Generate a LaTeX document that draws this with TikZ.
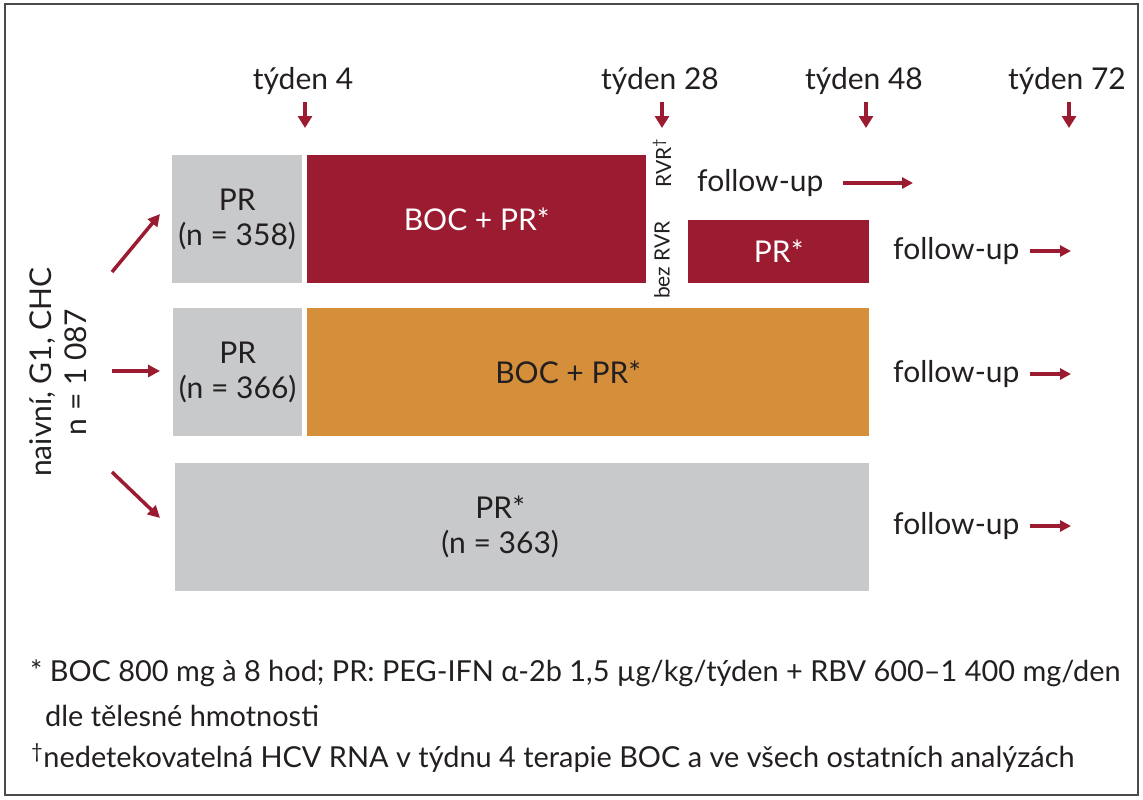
\documentclass[tikz,border=0pt]{standalone}
\usepackage{fontspec}
\setmainfont{Lato}
\usetikzlibrary{arrows.meta,positioning}

\definecolor{boxred}{HTML}{9B1B30}
\definecolor{boxorange}{HTML}{D58F3A}
\definecolor{boxgray}{HTML}{C8C9CB}
\definecolor{ink}{HTML}{231F20}
\definecolor{rim}{HTML}{4A4A4A}

\begin{document}
\begin{tikzpicture}
	[
		x = 1pt, y = -1pt,
		every node/.style = {text=ink, inner sep=0pt, font=\fontsize{30}{35}\selectfont},
		bar/.style = {shape=rectangle, anchor=north west, minimum height=128pt},
		graybar/.style = {bar, fill=boxgray},
		redbar/.style = {bar, fill=boxred, text=white},
		orangebar/.style = {bar, fill=boxorange},
		small/.style = {font=\fontsize{21}{25}\selectfont},
		note/.style = {anchor=west, font=\fontsize{28.9}{33}\selectfont},
		warr/.style = {draw=boxred, line width=4.5pt, -{Triangle[length=12pt, width=14pt]}},
		farr/.style = {draw=boxred, line width=3.5pt, -{Triangle[length=11pt, width=11pt]}},
		sarr/.style = {draw=boxred, line width=3.5pt, -{Triangle[length=12pt, width=12pt]}}
	]

	\useasboundingbox (0,0) rectangle (1143,800);
	\draw [rim, line width=2.5pt] (5,4) rectangle (1138,795);

	% weeks
	\foreach \w/\x in {4/305, 28/662, 48/866, 72/1069} {
		\coordinate (e\w) at (\x, 128);
		\coordinate (s\w) at (\x, 102);
		\node [anchor=base] (w\w) at ({\x - 2}, 89) {týden \w};
		\draw [warr] (s\w) -- (e\w);
	}

	% arm 1
	\node [graybar, minimum width=130pt, align=center] (pr1) at (172,155) {PR\\(n = 358)};
	\node [redbar, minimum width=339pt] (boc1) at (307,155) {BOC + PR*};
	\node [redbar, minimum width=181pt, minimum height=63pt] (prb) at (688,220) {PR*};
	\node [small, rotate=90] (rvr) at (662,163) {RVR\textsuperscript{†}};
	\node [small, rotate=90] (norvr) at (662,260) {bez RVR};

	% arm 2
	\node [graybar, minimum width=129pt, align=center] (pr2) at (173,308) {PR\\(n = 366)};
	\node [orangebar, minimum width=562pt] (boc2) at (307,308) {};
	\node (boc2t) at ([xshift=-20pt]boc2.center) {BOC + PR*};

	% arm 3
	\node [graybar, minimum width=694pt] (pr3) at (175,463) {};
	\node [align=center] (pr3t) at ([xshift=-22pt]pr3.center) {PR*\\(n = 363)};

	% follow-up
	\node [anchor=west] (fu1) at (697,183) {follow-up};
	\node [anchor=west] (fu2) at (893,251) {follow-up};
	\node [anchor=west] (fu3) at (893,374) {follow-up};
	\node [anchor=west] (fu4) at (893,526) {follow-up};
	\coordinate (fe1) at (913,183);
	\draw [farr] ([xshift=19pt]fu1.east) -- (fe1);
	\foreach \r/\y in {2/251, 3/374, 4/526} {
		\coordinate (fe\r) at (1071,\y);
		\draw [farr] ([xshift=10pt]fu\r.east) -- (fe\r);
	}

	% group
	\node [rotate=90, align=center] (grp) at (58,372) {naivní, G1, CHC\\n = 1 087};
	\coordinate (g1) at (112,272);
	\coordinate (g2) at (112,371);
	\coordinate (g3) at (112,472);
	\coordinate (h1) at (160,214);
	\coordinate (h2) at (160,371);
	\coordinate (h3) at (160,518);
	\foreach \i in {1,2,3} { \draw [sarr] (g\i) -- (h\i); }

	% notes
	\node [note] (n1) at (30,673) {* BOC 800 mg à 8 hod; PR: PEG-IFN α-2b 1,5 µg/kg/týden + RBV 600–1~400 mg/den};
	\node [note] (n2) at (45,716) {dle tělesné hmotnosti};
	\node [note] (n3) at (31,758) {\textsuperscript{†}nedetekovatelná HCV RNA v týdnu 4 terapie BOC a ve všech ostatních analýzách};
\end{tikzpicture}
\end{document}
